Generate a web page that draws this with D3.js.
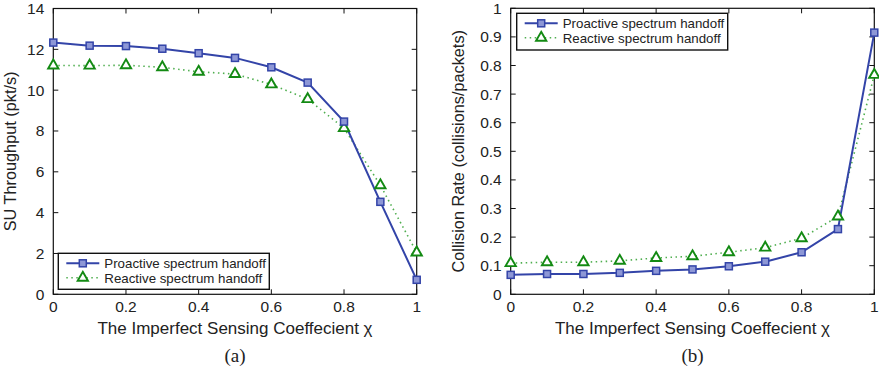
<!DOCTYPE html>
<html>
<head>
<meta charset="utf-8">
<script src="https://cdn.jsdelivr.net/npm/d3@7/dist/d3.min.js"></script>
<style>
  html, body { margin: 0; padding: 0; background: #fff; }
  svg { display: block; }
  text { font-family: "Liberation Sans", Arial, Helvetica, sans-serif; fill: #222; }
</style>
</head>
<body>
<svg id="fig" width="879" height="375"></svg>
<script>
// Imperfect sensing coefficient χ
const chi = [0, 0.1, 0.2, 0.3, 0.4, 0.5, 0.6, 0.7, 0.8, 0.9, 1.0];

// (a) SU throughput (pkt/s)
const throughputProactive = [12.33, 12.18, 12.16, 12.03, 11.81, 11.58, 11.12, 10.37, 8.46, 4.53, 0.71];
const throughputReactive  = [11.21, 11.20, 11.22, 11.12, 10.90, 10.79, 10.28, 9.56, 8.14, 5.34, 2.05];

// (b) collision rate (collisions/packets)
const collisionProactive = [0.068, 0.071, 0.071, 0.075, 0.082, 0.087, 0.098, 0.114, 0.147, 0.228, 0.915];
const collisionReactive  = [0.109, 0.112, 0.112, 0.117, 0.127, 0.133, 0.147, 0.163, 0.196, 0.272, 0.767];

const xTicks = [0, 0.2, 0.4, 0.6, 0.8, 1];
const yTicksA = [0, 2, 4, 6, 8, 10, 12, 14];
const yTicksB = [0, 0.1, 0.2, 0.3, 0.4, 0.5, 0.6, 0.7, 0.8, 0.9, 1];
const legendLabels = ["Proactive spectrum handoff", "Reactive spectrum handoff"];

const BLUE = "#3344a8", BLUE_FILL = "#8d97d6", GREEN = "#138a13", GREEN_LINE = "#4fae4f";

const svg = d3.select("#fig");

function panel(opt) {
  const x = d3.scaleLinear().domain([0, 1]).range([opt.left, opt.right]);
  const y = d3.scaleLinear().domain(opt.yDomain).range([opt.bottom, opt.top]);
  const g = svg.append("g");

  // frame
  g.append("rect").attr("x", opt.left).attr("y", opt.top)
    .attr("width", opt.right - opt.left).attr("height", opt.bottom - opt.top)
    .attr("fill", "none").attr("stroke", "#111").attr("stroke-width", 1.2);

  const tl = 5;
  // x ticks (bottom and top, inward) + labels
  xTicks.forEach(t => {
    g.append("line").attr("x1", x(t)).attr("x2", x(t)).attr("y1", opt.bottom).attr("y2", opt.bottom - tl).attr("stroke", "#111");
    g.append("line").attr("x1", x(t)).attr("x2", x(t)).attr("y1", opt.top).attr("y2", opt.top + tl).attr("stroke", "#111");
    g.append("text").attr("x", x(t)).attr("y", opt.bottom + 17.5).attr("text-anchor", "middle")
      .attr("font-size", 15.5).text(d3.format("")(t));
  });
  // y ticks (left and right, inward) + labels
  opt.yTicks.forEach(t => {
    g.append("line").attr("x1", opt.left).attr("x2", opt.left + tl).attr("y1", y(t)).attr("y2", y(t)).attr("stroke", "#111");
    g.append("line").attr("x1", opt.right).attr("x2", opt.right - tl).attr("y1", y(t)).attr("y2", y(t)).attr("stroke", "#111");
    g.append("text").attr("x", opt.left - 9).attr("y", y(t) + 5.5).attr("text-anchor", "end")
      .attr("font-size", 15.5).text(d3.format("")(+t.toFixed(1)));
  });

  // axis titles
  g.append("text").attr("x", (opt.left + opt.right) / 2).attr("y", opt.bottom + 40)
    .attr("text-anchor", "middle").attr("font-size", 17)
    .text("The Imperfect Sensing Coeffecient \u03C7");
  g.append("text").attr("transform", `translate(${opt.yLabelX},${(opt.top + opt.bottom) / 2}) rotate(-90)`)
    .attr("text-anchor", "middle").attr("font-size", 16.3).text(opt.yLabel);
  g.append("text").attr("x", (opt.left + opt.right) / 2).attr("y", 362)
    .attr("text-anchor", "middle").attr("font-size", 19)
    .style("font-family", "'Liberation Serif', 'Times New Roman', serif").text(opt.caption);

  const line = d3.line().x((d, i) => x(chi[i])).y(d => y(d));

  // reactive (dotted green)
  g.append("path").datum(opt.reactive).attr("d", line).attr("fill", "none")
    .attr("stroke", GREEN_LINE).attr("stroke-width", 1.6).attr("stroke-dasharray", "1.5,3.5");
  // proactive (solid blue)
  g.append("path").datum(opt.proactive).attr("d", line).attr("fill", "none")
    .attr("stroke", BLUE).attr("stroke-width", 2);

  const tri = d3.symbol().type(d3.symbolTriangle).size(46);
  g.selectAll(".tri").data(opt.reactive).join("path")
    .attr("transform", (d, i) => `translate(${x(chi[i])},${y(d)})`)
    .attr("d", tri).attr("fill", "#fff").attr("stroke", GREEN).attr("stroke-width", 1.9);
  g.selectAll(".sq").data(opt.proactive).join("rect")
    .attr("x", (d, i) => x(chi[i]) - 3.5).attr("y", d => y(d) - 3.5)
    .attr("width", 7).attr("height", 7)
    .attr("fill", BLUE_FILL).attr("stroke", BLUE).attr("stroke-width", 1.5);

  // legend
  const L = opt.legend;
  const lg = g.append("g");
  lg.append("rect").attr("x", L.x).attr("y", L.y).attr("width", L.w).attr("height", L.h)
    .attr("fill", "#fff").attr("stroke", "#111").attr("stroke-width", 1.4);
  const r1 = L.y + 10, r2 = L.y + 24.5;
  const sx1 = L.x + 8, sx2 = L.x + 41, sc = (sx1 + sx2) / 2;
  lg.append("line").attr("x1", sx1).attr("x2", sx2).attr("y1", r1).attr("y2", r1)
    .attr("stroke", BLUE).attr("stroke-width", 2);
  lg.append("rect").attr("x", sc - 3.5).attr("y", r1 - 3.5).attr("width", 7).attr("height", 7)
    .attr("fill", BLUE_FILL).attr("stroke", BLUE).attr("stroke-width", 1.5);
  lg.append("line").attr("x1", sx1).attr("x2", sx2).attr("y1", r2).attr("y2", r2)
    .attr("stroke", GREEN_LINE).attr("stroke-width", 1.6).attr("stroke-dasharray", "1.5,3.5");
  lg.append("path").attr("transform", `translate(${sc},${r2})`).attr("d", tri)
    .attr("fill", "#fff").attr("stroke", GREEN).attr("stroke-width", 1.9);
  lg.append("text").attr("x", L.x + 46).attr("y", r1 + 5).attr("font-size", 13.3).text(legendLabels[0]);
  lg.append("text").attr("x", L.x + 46).attr("y", r2 + 5).attr("font-size", 13.3).text(legendLabels[1]);
}

panel({
  left: 53.3, right: 416.7, top: 8.5, bottom: 294.3,
  yDomain: [0, 14], yTicks: yTicksA,
  yLabel: "SU Throughput (pkt/s)", yLabelX: 16, caption: "(a)",
  proactive: throughputProactive, reactive: throughputReactive,
  legend: { x: 58.3, y: 253.3, w: 211, h: 36 }
});

panel({
  left: 510.7, right: 874.3, top: 8.3, bottom: 294.3,
  yDomain: [0, 1], yTicks: yTicksB,
  yLabel: "Collision Rate (collisions/packets)", yLabelX: 464, caption: "(b)",
  proactive: collisionProactive, reactive: collisionReactive,
  legend: { x: 516.7, y: 13.3, w: 211, h: 36.7 }
});
</script>
</body>
</html>
